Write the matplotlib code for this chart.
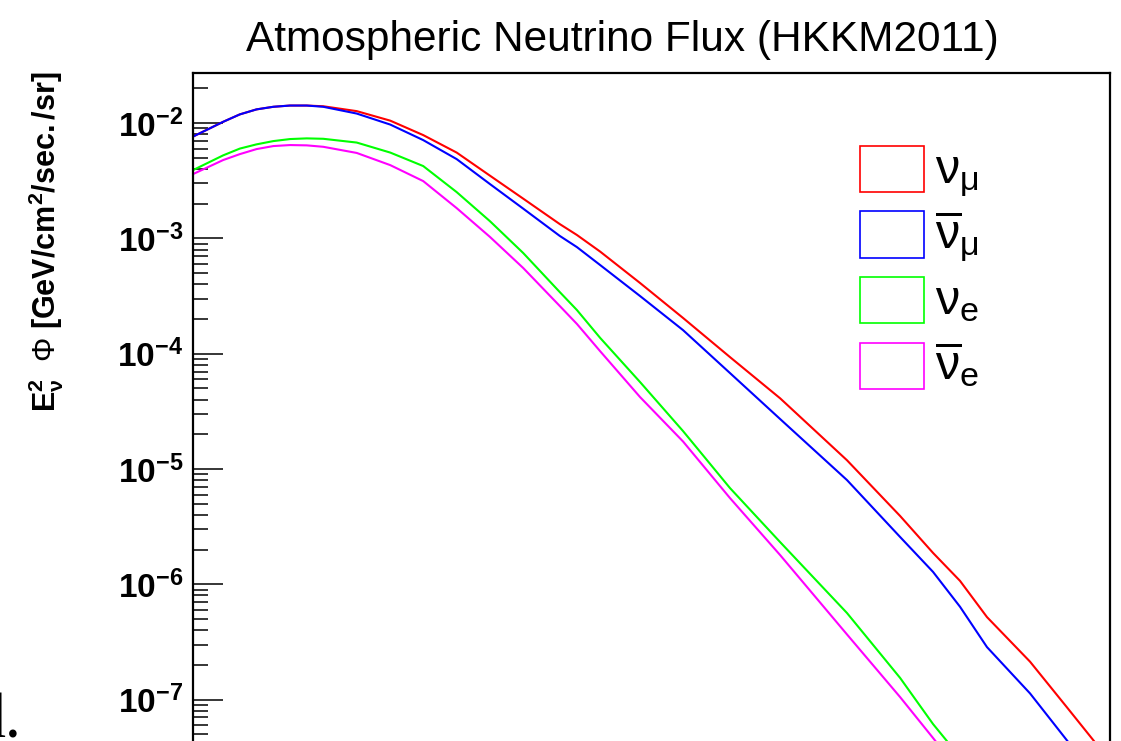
import numpy as np
import matplotlib

matplotlib.use("Agg")
import matplotlib.pyplot as plt
from matplotlib.patches import Rectangle
from matplotlib.ticker import LogLocator, FuncFormatter, NullFormatter

plt.rcParams["font.family"] = ["Liberation Sans", "DejaVu Sans"]
plt.rcParams["mathtext.fontset"] = "custom"
plt.rcParams["mathtext.rm"] = "Liberation Sans"
plt.rcParams["mathtext.it"] = "Liberation Sans"
plt.rcParams["mathtext.bf"] = "Liberation Sans:bold"

# HKKM2011 E^2 * flux (GeV/cm^2/sec./sr)
energy_gev = [0.1, 0.146, 0.180, 0.222, 0.274, 0.338, 0.417, 0.513, 0.781, 1.19,
              1.80, 2.74, 4.16, 6.32, 10.0, 12.4, 16.6, 27.4, 47.0, 84.7,
              159, 368, 717, 1084, 1521, 2134, 3664, 5806, 10000]
flux_numu = [7.64e-3, 1.026e-2, 1.19e-2, 1.315e-2, 1.385e-2, 1.42e-2, 1.42e-2, 1.40e-2,
             1.27e-2, 1.05e-2, 7.87e-3, 5.55e-3, 3.50e-3, 2.21e-3, 1.33e-3, 1.07e-3,
             7.68e-4, 4.10e-4, 2.04e-4, 9.34e-5, 4.10e-5, 1.19e-5, 3.91e-6, 1.87e-6,
             1.07e-6, 5.19e-7, 2.13e-7, 8.61e-8, 2.93e-8]
flux_numubar = [7.64e-3, 1.026e-2, 1.19e-2, 1.315e-2, 1.385e-2, 1.42e-2, 1.42e-2, 1.385e-2,
                1.21e-2, 9.71e-3, 7.12e-3, 4.87e-3, 2.96e-3, 1.81e-3, 1.05e-3, 8.40e-4,
                5.87e-4, 3.16e-4, 1.60e-4, 6.79e-5, 2.71e-5, 8.01e-6, 2.57e-6, 1.28e-6,
                6.38e-7, 2.85e-7, 1.13e-7, 4.45e-8, 1.49e-8]
flux_nue = [3.91e-3, 5.25e-3, 6.01e-3, 6.54e-3, 6.98e-3, 7.27e-3, 7.37e-3, 7.31e-3,
            6.78e-3, 5.55e-3, 4.24e-3, 2.52e-3, 1.41e-3, 7.46e-4, 3.42e-4, 2.39e-4,
            1.37e-4, 5.67e-5, 2.13e-5, 6.83e-6, 2.32e-6, 5.63e-7, 1.54e-7, 6.13e-8,
            3.17e-8, 1.58e-8, 5.15e-9, 1.98e-9, 6.46e-10]
flux_nuebar = [3.61e-3, 4.78e-3, 5.38e-3, 5.95e-3, 6.32e-3, 6.45e-3, 6.41e-3, 6.23e-3,
               5.51e-3, 4.32e-3, 3.14e-3, 1.83e-3, 1.03e-3, 5.53e-4, 2.59e-4, 1.81e-4,
               1.05e-4, 4.20e-5, 1.73e-5, 5.59e-6, 1.79e-6, 3.67e-7, 1.05e-7, 4.64e-8,
               2.35e-8, 1.19e-8, 4.06e-9, 1.62e-9, 5.50e-10]

series = [flux_numu, flux_numubar, flux_nue, flux_nuebar]
labels = [r"$\nu_{\mu}$", r"$\overline{\nu}_{\mu}$", r"$\nu_{e}$", r"$\overline{\nu}_{e}$"]
colors = ["#ff0000", "#0000ff", "#00ff00", "#ff00ff"]

W, H = 1121, 741
fig = plt.figure(figsize=(W / 100, H / 100), dpi=100)
# the pad is cropped: the axes run below the bottom edge of the picture
ax = fig.add_axes([193 / W, -18.8 / H, 917 / W, 686.8 / H])

for y, c in zip(series, colors):
    ax.plot(energy_gev, y, color=c, lw=1.5)

ax.set_xscale("log")
ax.set_yscale("log")
ax.set_xlim(0.1, 1e4)
ax.set_ylim(3e-8, 0.0272)

ax.yaxis.set_major_locator(LogLocator(base=10, numticks=20))
ax.yaxis.set_minor_locator(LogLocator(base=10, subs=np.arange(2, 10), numticks=20))
ax.yaxis.set_major_formatter(FuncFormatter(lambda v, p: r"$\mathbf{10^{%d}}$" % round(np.log10(v))))
ax.yaxis.set_minor_formatter(NullFormatter())
ax.xaxis.set_major_formatter(NullFormatter())
ax.xaxis.set_minor_formatter(NullFormatter())
ax.tick_params(axis="y", which="both", direction="in", left=True, right=False,
               width=1.1, labelsize=24, pad=7)
ax.tick_params(axis="y", which="major", length=21.5)
ax.tick_params(axis="y", which="minor", length=10.8)
ax.tick_params(axis="x", which="both", direction="in", top=False)
for s in ax.spines.values():
    s.set_linewidth(1.6)

fig.text(46 / W, 1 - 72 / H,
         r"$\mathbf{E_{\nu}^{2}}\ \ \Phi\ \mathbf{[GeV/cm^{2}/sec./sr]}$",
         rotation=90, ha="center", va="top", fontsize=22)
fig.text(622 / W, 1 - 40 / H, "Atmospheric Neutrino Flux (HKKM2011)",
         ha="center", va="center", fontsize=30.5)
fig.text(-26 / W, 1 - 737 / H, "d.", family="Liberation Serif", fontsize=46,
         ha="left", va="baseline")

# ROOT-style legend without a frame: hollow boxes + labels
for i, (lab, c) in enumerate(zip(labels, colors)):
    top = 146 + 65.5 * i
    fig.add_artist(Rectangle((860 / W, 1 - (top + 46) / H), 64 / W, 46 / H,
                             transform=fig.transFigure, facecolor="none",
                             edgecolor=c, linewidth=1.2))
    fig.text(935 / W, 1 - (top + 37) / H, lab, fontsize=35,
             ha="left", va="baseline")

fig.savefig("out.png", dpi=100)
